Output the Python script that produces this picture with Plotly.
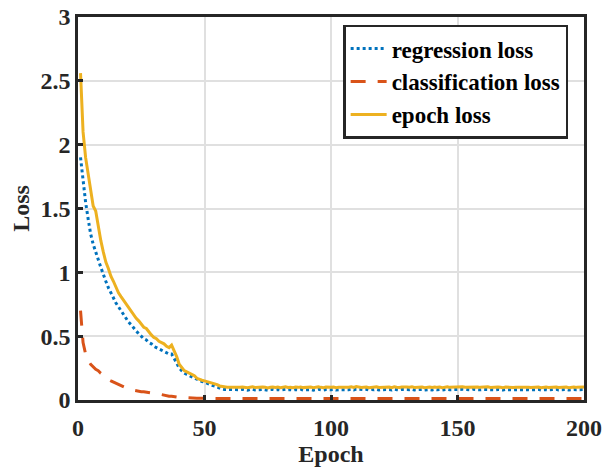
import plotly.graph_objects as go

epochs = list(range(1, 201))

# epoch loss (yellow)
epoch_loss_head = [
    2.56, 2.10, 1.90, 1.78, 1.65, 1.52, 1.48, 1.35, 1.25, 1.16,
    1.08, 1.03, 0.97, 0.93, 0.88, 0.84, 0.81, 0.78, 0.75, 0.72,
    0.69, 0.66, 0.64, 0.62, 0.59, 0.57, 0.56, 0.53, 0.51, 0.49,
    0.48, 0.46, 0.45, 0.44, 0.42, 0.41, 0.43, 0.39, 0.34, 0.28,
    0.25, 0.23, 0.22, 0.21, 0.20, 0.19, 0.17, 0.16, 0.155, 0.15,
    0.145, 0.14, 0.13, 0.125, 0.12, 0.11, 0.105, 0.10, 0.10, 0.099,
]
epoch_loss_tail = [
    0.098, 0.101, 0.097, 0.100, 0.102, 0.099, 0.096, 0.100, 0.103, 0.098,
    0.100, 0.097, 0.101, 0.099, 0.095, 0.100, 0.102, 0.098, 0.101, 0.097,
    0.099, 0.103, 0.098, 0.100, 0.096, 0.101, 0.099, 0.102, 0.097, 0.100,
    0.098, 0.101, 0.096, 0.100, 0.103, 0.099, 0.097, 0.101, 0.098, 0.100,
    0.102, 0.097, 0.100, 0.099, 0.101, 0.096, 0.100, 0.103, 0.098, 0.106,
    0.101, 0.098, 0.100, 0.102, 0.097, 0.101, 0.099, 0.104, 0.098, 0.100,
    0.102, 0.099, 0.101, 0.097, 0.103, 0.100, 0.098, 0.102, 0.099, 0.101,
    0.100, 0.103, 0.098, 0.101, 0.099, 0.102, 0.097, 0.100, 0.101, 0.098,
    0.102, 0.099, 0.101, 0.097, 0.100, 0.103, 0.099, 0.101, 0.098, 0.100,
    0.102, 0.104, 0.100, 0.101, 0.098, 0.103, 0.100, 0.102, 0.099, 0.101,
    0.100, 0.103, 0.098, 0.101, 0.099, 0.102, 0.100, 0.097, 0.101, 0.099,
    0.102, 0.098, 0.100, 0.101, 0.097, 0.103, 0.099, 0.100, 0.098, 0.101,
    0.099, 0.102, 0.097, 0.100, 0.101, 0.098, 0.100, 0.099, 0.102, 0.098,
    0.100, 0.099, 0.101, 0.097, 0.100, 0.102, 0.099, 0.100, 0.098, 0.101,
]

# regression loss (blue)
regression_loss_head = [
    1.90, 1.70, 1.55, 1.42, 1.30, 1.22, 1.15, 1.10, 1.04, 0.98,
    0.93, 0.88, 0.84, 0.79, 0.76, 0.73, 0.70, 0.66, 0.63, 0.61,
    0.59, 0.56, 0.54, 0.52, 0.50, 0.48, 0.47, 0.45, 0.44, 0.42,
    0.41, 0.40, 0.39, 0.38, 0.37, 0.36, 0.36, 0.33, 0.29, 0.25,
    0.23, 0.21, 0.20, 0.19, 0.18, 0.17, 0.16, 0.155, 0.145, 0.14,
    0.13, 0.12, 0.115, 0.11, 0.10, 0.09, 0.085, 0.082, 0.081, 0.080,
]
regression_loss_tail = [
    0.080, 0.083, 0.078, 0.081, 0.084, 0.079, 0.077, 0.082, 0.084, 0.079,
    0.081, 0.078, 0.083, 0.080, 0.076, 0.081, 0.083, 0.079, 0.082, 0.078,
    0.080, 0.084, 0.079, 0.081, 0.077, 0.082, 0.080, 0.083, 0.078, 0.081,
    0.079, 0.082, 0.077, 0.081, 0.084, 0.080, 0.078, 0.082, 0.079, 0.081,
    0.083, 0.078, 0.081, 0.080, 0.082, 0.077, 0.081, 0.084, 0.079, 0.085,
    0.082, 0.079, 0.081, 0.083, 0.078, 0.082, 0.080, 0.084, 0.079, 0.081,
    0.083, 0.080, 0.082, 0.078, 0.084, 0.081, 0.079, 0.083, 0.080, 0.082,
    0.081, 0.084, 0.079, 0.082, 0.080, 0.083, 0.078, 0.081, 0.082, 0.079,
    0.083, 0.080, 0.082, 0.078, 0.081, 0.084, 0.080, 0.082, 0.079, 0.081,
    0.083, 0.084, 0.081, 0.082, 0.079, 0.084, 0.081, 0.083, 0.080, 0.082,
    0.081, 0.084, 0.079, 0.082, 0.080, 0.083, 0.081, 0.078, 0.082, 0.080,
    0.083, 0.079, 0.081, 0.082, 0.078, 0.084, 0.080, 0.081, 0.079, 0.082,
    0.080, 0.083, 0.078, 0.081, 0.082, 0.079, 0.081, 0.080, 0.083, 0.079,
    0.081, 0.080, 0.082, 0.078, 0.081, 0.083, 0.080, 0.081, 0.079, 0.082,
]

# classification loss (red)
classification_loss_head = [
    0.70, 0.45, 0.36, 0.31, 0.28, 0.26, 0.24, 0.23, 0.21, 0.20,
    0.18, 0.16, 0.15, 0.14, 0.13, 0.12, 0.11, 0.10, 0.09, 0.085,
    0.08, 0.075, 0.07, 0.07, 0.065, 0.065, 0.06, 0.06, 0.055, 0.055,
    0.05, 0.045, 0.04, 0.04, 0.035, 0.03, 0.03, 0.025, 0.02, 0.02,
    0.02, 0.018, 0.017, 0.016, 0.015, 0.015, 0.014, 0.014, 0.013, 0.013,
    0.013, 0.013, 0.012, 0.012, 0.012, 0.012, 0.012, 0.012, 0.012, 0.012,
]
classification_loss_tail = [0.012] * 140

epoch_loss = epoch_loss_head + epoch_loss_tail
regression_loss = regression_loss_head + regression_loss_tail
classification_loss = classification_loss_head + classification_loss_tail

x_ticks = [0, 50, 100, 150, 200]
y_ticks = [0, 0.5, 1, 1.5, 2, 2.5, 3]
y_tick_text = ["0", "0.5", "1", "1.5", "2", "2.5", "3"]

FONT = "Liberation Serif"
INK = "#262626"

fig = go.Figure()
fig.add_trace(go.Scatter(
    x=epochs, y=regression_loss, mode="lines", name="regression loss",
    line=dict(color="#0072BD", width=3, dash="3px,3px"),
))
fig.add_trace(go.Scatter(
    x=epochs, y=classification_loss, mode="lines", name="classification loss",
    line=dict(color="#D95319", width=3, dash="15px,12px"),
))
fig.add_trace(go.Scatter(
    x=epochs, y=epoch_loss, mode="lines", name="epoch loss",
    line=dict(color="#EDB120", width=3),
))

axis_common = dict(
    showline=True, linewidth=2.5, linecolor=INK, mirror=True,
    ticks="inside", ticklen=5, tickwidth=2.5, tickcolor=INK,
    showgrid=True, gridcolor="#e0e0e0", gridwidth=2,
    zeroline=False, ticklabeloverflow="allow",
    tickfont=dict(family=FONT, size=24, color=INK, weight="bold"),
)

fig.update_layout(
    width=616, height=472,
    margin=dict(l=70, r=40, t=9, b=80, autoexpand=False),
    paper_bgcolor="white", plot_bgcolor="white",
    font=dict(family=FONT, size=24, color=INK, weight="bold"),
    xaxis=dict(
        range=[0, 200], tickvals=x_ticks, ticklabelstandoff=4,
        title=dict(text="<b>Epoch</b>", font=dict(family=FONT, size=24, color=INK), standoff=6),
        **axis_common,
    ),
    yaxis=dict(
        range=[0, 3], tickvals=y_ticks, ticktext=y_tick_text,
        title=dict(text="<b>Loss</b>", font=dict(family=FONT, size=24, color=INK), standoff=6),
        **axis_common,
    ),
    legend=dict(
        x=0.524, y=0.98, xanchor="left", yanchor="top",
        bgcolor="white", bordercolor=INK, borderwidth=2.5,
        font=dict(family=FONT, size=23, color="black", weight="bold"),
        tracegroupgap=0, itemwidth=36,
    ),
    showlegend=True,
)

fig.write_html("out.html")
